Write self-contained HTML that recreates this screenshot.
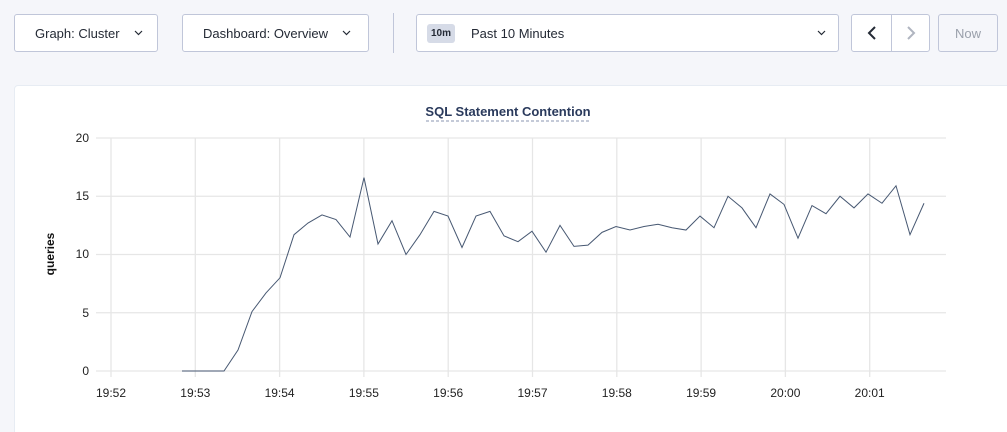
<!DOCTYPE html>
<html><head><style>
html,body{margin:0;width:1007px;height:432px;overflow:hidden}
body{background:#f5f6fa;font-family:"Liberation Sans",sans-serif;position:relative}
.b{position:absolute;top:14px;height:38px;background:#fff;border:1px solid #c0c6d9;border-radius:3px;box-sizing:border-box;font-size:13px;color:#242a35;display:flex;align-items:center}
.card{position:absolute;left:14px;top:85px;width:1000px;height:360px;background:#fff;border:1px solid #e7ecf3;border-radius:4px;box-sizing:border-box}
</style></head><body>
<div class="b" style="left:14px;width:144px;padding-left:20px">Graph: Cluster<svg style="margin-left:14px" width="9" height="6"><polyline points="1,1 4.5,4.5 8,1" fill="none" stroke="#242a35" stroke-width="1.2"/></svg></div>
<div class="b" style="left:182px;width:187px;padding-left:20px">Dashboard: Overview<svg style="margin-left:14px" width="9" height="6"><polyline points="1,1 4.5,4.5 8,1" fill="none" stroke="#242a35" stroke-width="1.2"/></svg></div>
<div style="position:absolute;left:393px;top:13px;width:1px;height:40px;background:#c0c6d9"></div>
<div class="b" style="left:416px;width:423px;padding-left:10px"><span style="background:#d6dbe7;border-radius:3px;padding:4px 4px;font-size:10px;font-weight:bold">10m</span><span style="margin-left:16px">Past 10 Minutes</span><svg style="position:absolute;right:12px" width="9" height="6"><polyline points="1,1 4.5,4.5 8,1" fill="none" stroke="#242a35" stroke-width="1.2"/></svg></div>
<div class="b" style="left:851px;width:79px"><div style="width:39px;height:100%;border-right:1px solid #c0c6d9;display:flex;align-items:center;justify-content:center"><svg width="10" height="14"><polyline points="8,1 2,7 8,13" fill="none" stroke="#242a35" stroke-width="2"/></svg></div><div style="flex:1;display:flex;justify-content:center"><svg width="10" height="14"><polyline points="2,1 8,7 2,13" fill="none" stroke="#b0b5c0" stroke-width="2"/></svg></div></div>
<div class="b" style="left:938px;width:60px;justify-content:center;color:#9aa0ab;background:#f5f6fa">Now</div>
<div class="card"></div>
<svg style="position:absolute;left:0;top:0" width="1007" height="432">
<text x="508" y="116" font-size="13" font-weight="bold" fill="#2a3a5c" text-anchor="middle" font-family="Liberation Sans">SQL Statement Contention</text>
<line x1="426" y1="121" x2="590" y2="121" stroke="#8a94b0" stroke-dasharray="3,2"/>
<g stroke="#e6e6e6" stroke-width="1.3">
<line x1="96" x2="946" y1="138" y2="138"/><line x1="96" x2="946" y1="196.25" y2="196.25"/><line x1="96" x2="946" y1="254.5" y2="254.5"/><line x1="96" x2="946" y1="312.75" y2="312.75"/><line x1="96" x2="946" y1="371" y2="371"/>
<line x1="111" x2="111" y1="138" y2="377"/><line x1="195.3" x2="195.3" y1="138" y2="377"/><line x1="279.6" x2="279.6" y1="138" y2="377"/><line x1="363.9" x2="363.9" y1="138" y2="377"/><line x1="448.2" x2="448.2" y1="138" y2="377"/><line x1="532.5" x2="532.5" y1="138" y2="377"/><line x1="616.8" x2="616.8" y1="138" y2="377"/><line x1="701.1" x2="701.1" y1="138" y2="377"/><line x1="785.4" x2="785.4" y1="138" y2="377"/><line x1="869.7" x2="869.7" y1="138" y2="377"/>
</g>
<g font-size="12" fill="#222" text-anchor="end" font-family="Liberation Sans">
<text x="89" y="142">20</text><text x="89" y="200">15</text><text x="89" y="258">10</text><text x="89" y="317">5</text><text x="89" y="375">0</text>
</g>
<g font-size="12" fill="#222" text-anchor="middle" font-family="Liberation Sans">
<text x="111" y="397">19:52</text><text x="195.3" y="397">19:53</text><text x="279.6" y="397">19:54</text><text x="363.9" y="397">19:55</text><text x="448.2" y="397">19:56</text><text x="532.5" y="397">19:57</text><text x="616.8" y="397">19:58</text><text x="701.1" y="397">19:59</text><text x="785.4" y="397">20:00</text><text x="869.7" y="397">20:01</text>
</g>
<text transform="translate(54,254) rotate(-90)" font-size="12" font-weight="bold" fill="#111" text-anchor="middle" font-family="Liberation Sans">queries</text>
<g transform="translate(0,371) scale(1,-11.65)">
<polyline fill="none" stroke="#475872" stroke-width="1" vector-effect="non-scaling-stroke" points="182,0 196,0 210,0 224,0 238,1.8 252,5.1 266,6.7 280,8 294,11.7 308,12.7 322,13.4 336,13 350,11.5 364,16.6 378,10.9 392,12.9 406,10 420,11.7 434,13.7 448,13.3 462,10.6 476,13.3 490,13.7 504,11.6 518,11.1 532,12 546,10.2 560,12.5 574,10.7 588,10.8 602,11.9 616,12.4 630,12.1 644,12.4 658,12.6 672,12.3 686,12.1 700,13.3 714,12.3 728,15 742,14 756,12.3 770,15.2 784,14.3 798,11.4 812,14.2 826,13.5 840,15 854,14 868,15.2 882,14.4 896,15.9 910,11.7 924,14.4"/>
</g>
</svg>
</body></html>
